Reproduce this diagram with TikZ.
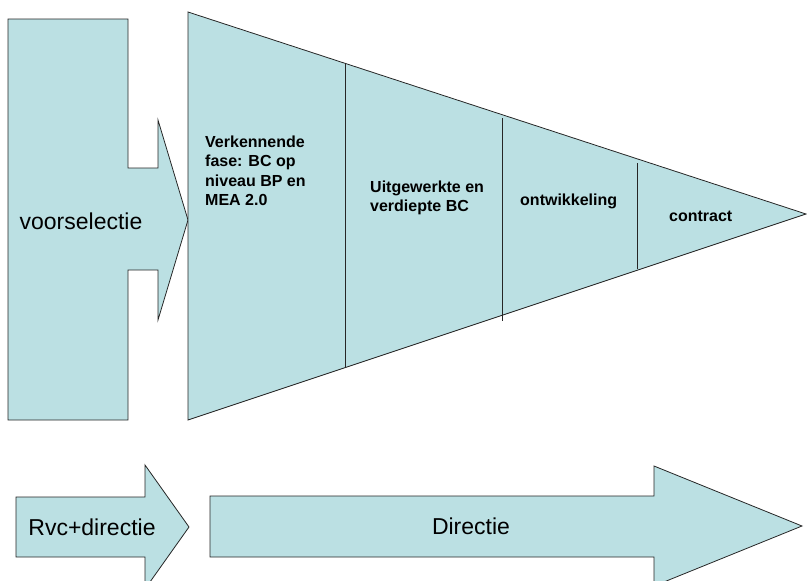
\documentclass[tikz,border=0pt]{standalone}
\usepackage{fontspec}
\setmainfont{Liberation Sans}
\definecolor{fillc}{HTML}{BBE0E3}
\begin{document}
\begin{tikzpicture}[x=1pt,y=-1pt,
  shapefill/.style={fill=fillc,draw=black!85,line width=0.8pt,line join=miter},
  divider/.style={draw=black!85,line width=0.8pt},
  lbl/.style={font=\fontsize{16}{19.5}\selectfont\bfseries,align=left,inner sep=0pt,anchor=west},
  big/.style={font=\fontsize{23}{27}\selectfont,inner sep=0pt}]
\useasboundingbox (0,0) rectangle (807,581);
\clip (0,0) rectangle (807,581);
% left block with arrow
\draw[shapefill] (8,19) -- (128,19) -- (128,168) -- (158,168) -- (158,120) -- (188,220)
  -- (158,320) -- (158,270) -- (128,270) -- (128,420) -- (8,420) -- cycle;
% funnel triangle
\draw[shapefill] (188,12) -- (806,214) -- (188,420) -- cycle;
\draw[divider] (345,63) -- (345,368);
\draw[divider] (502,118) -- (502,321);
\draw[divider] (637,163) -- (637,269);
% bottom arrows
\draw[shapefill] (16,497) -- (145,497) -- (145,465) -- (189,527) -- (145,589) -- (145,557) -- (16,557) -- cycle;
\draw[shapefill] (210,496) -- (654,496) -- (654,466) -- (802,526) -- (654,586) -- (654,557) -- (210,557) -- cycle;
% texts
\node[big] (vs) at (81,221) {voorselectie};
\node[lbl] (f1) at (205,171) {Verkennende\\fase: BC op\\niveau BP en\\MEA 2.0};
\node[lbl] (f2) at (370,198) {Uitgewerkte en\\verdiepte BC};
\node[lbl] (f3) at (520,201) {ontwikkeling};
\node[lbl] (f4) at (669,216) {contract};
\node[big] (rvc) at (92,527) {Rvc+directie};
\node[big] (dir) at (471,526) {Directie};
\end{tikzpicture}
\end{document}
